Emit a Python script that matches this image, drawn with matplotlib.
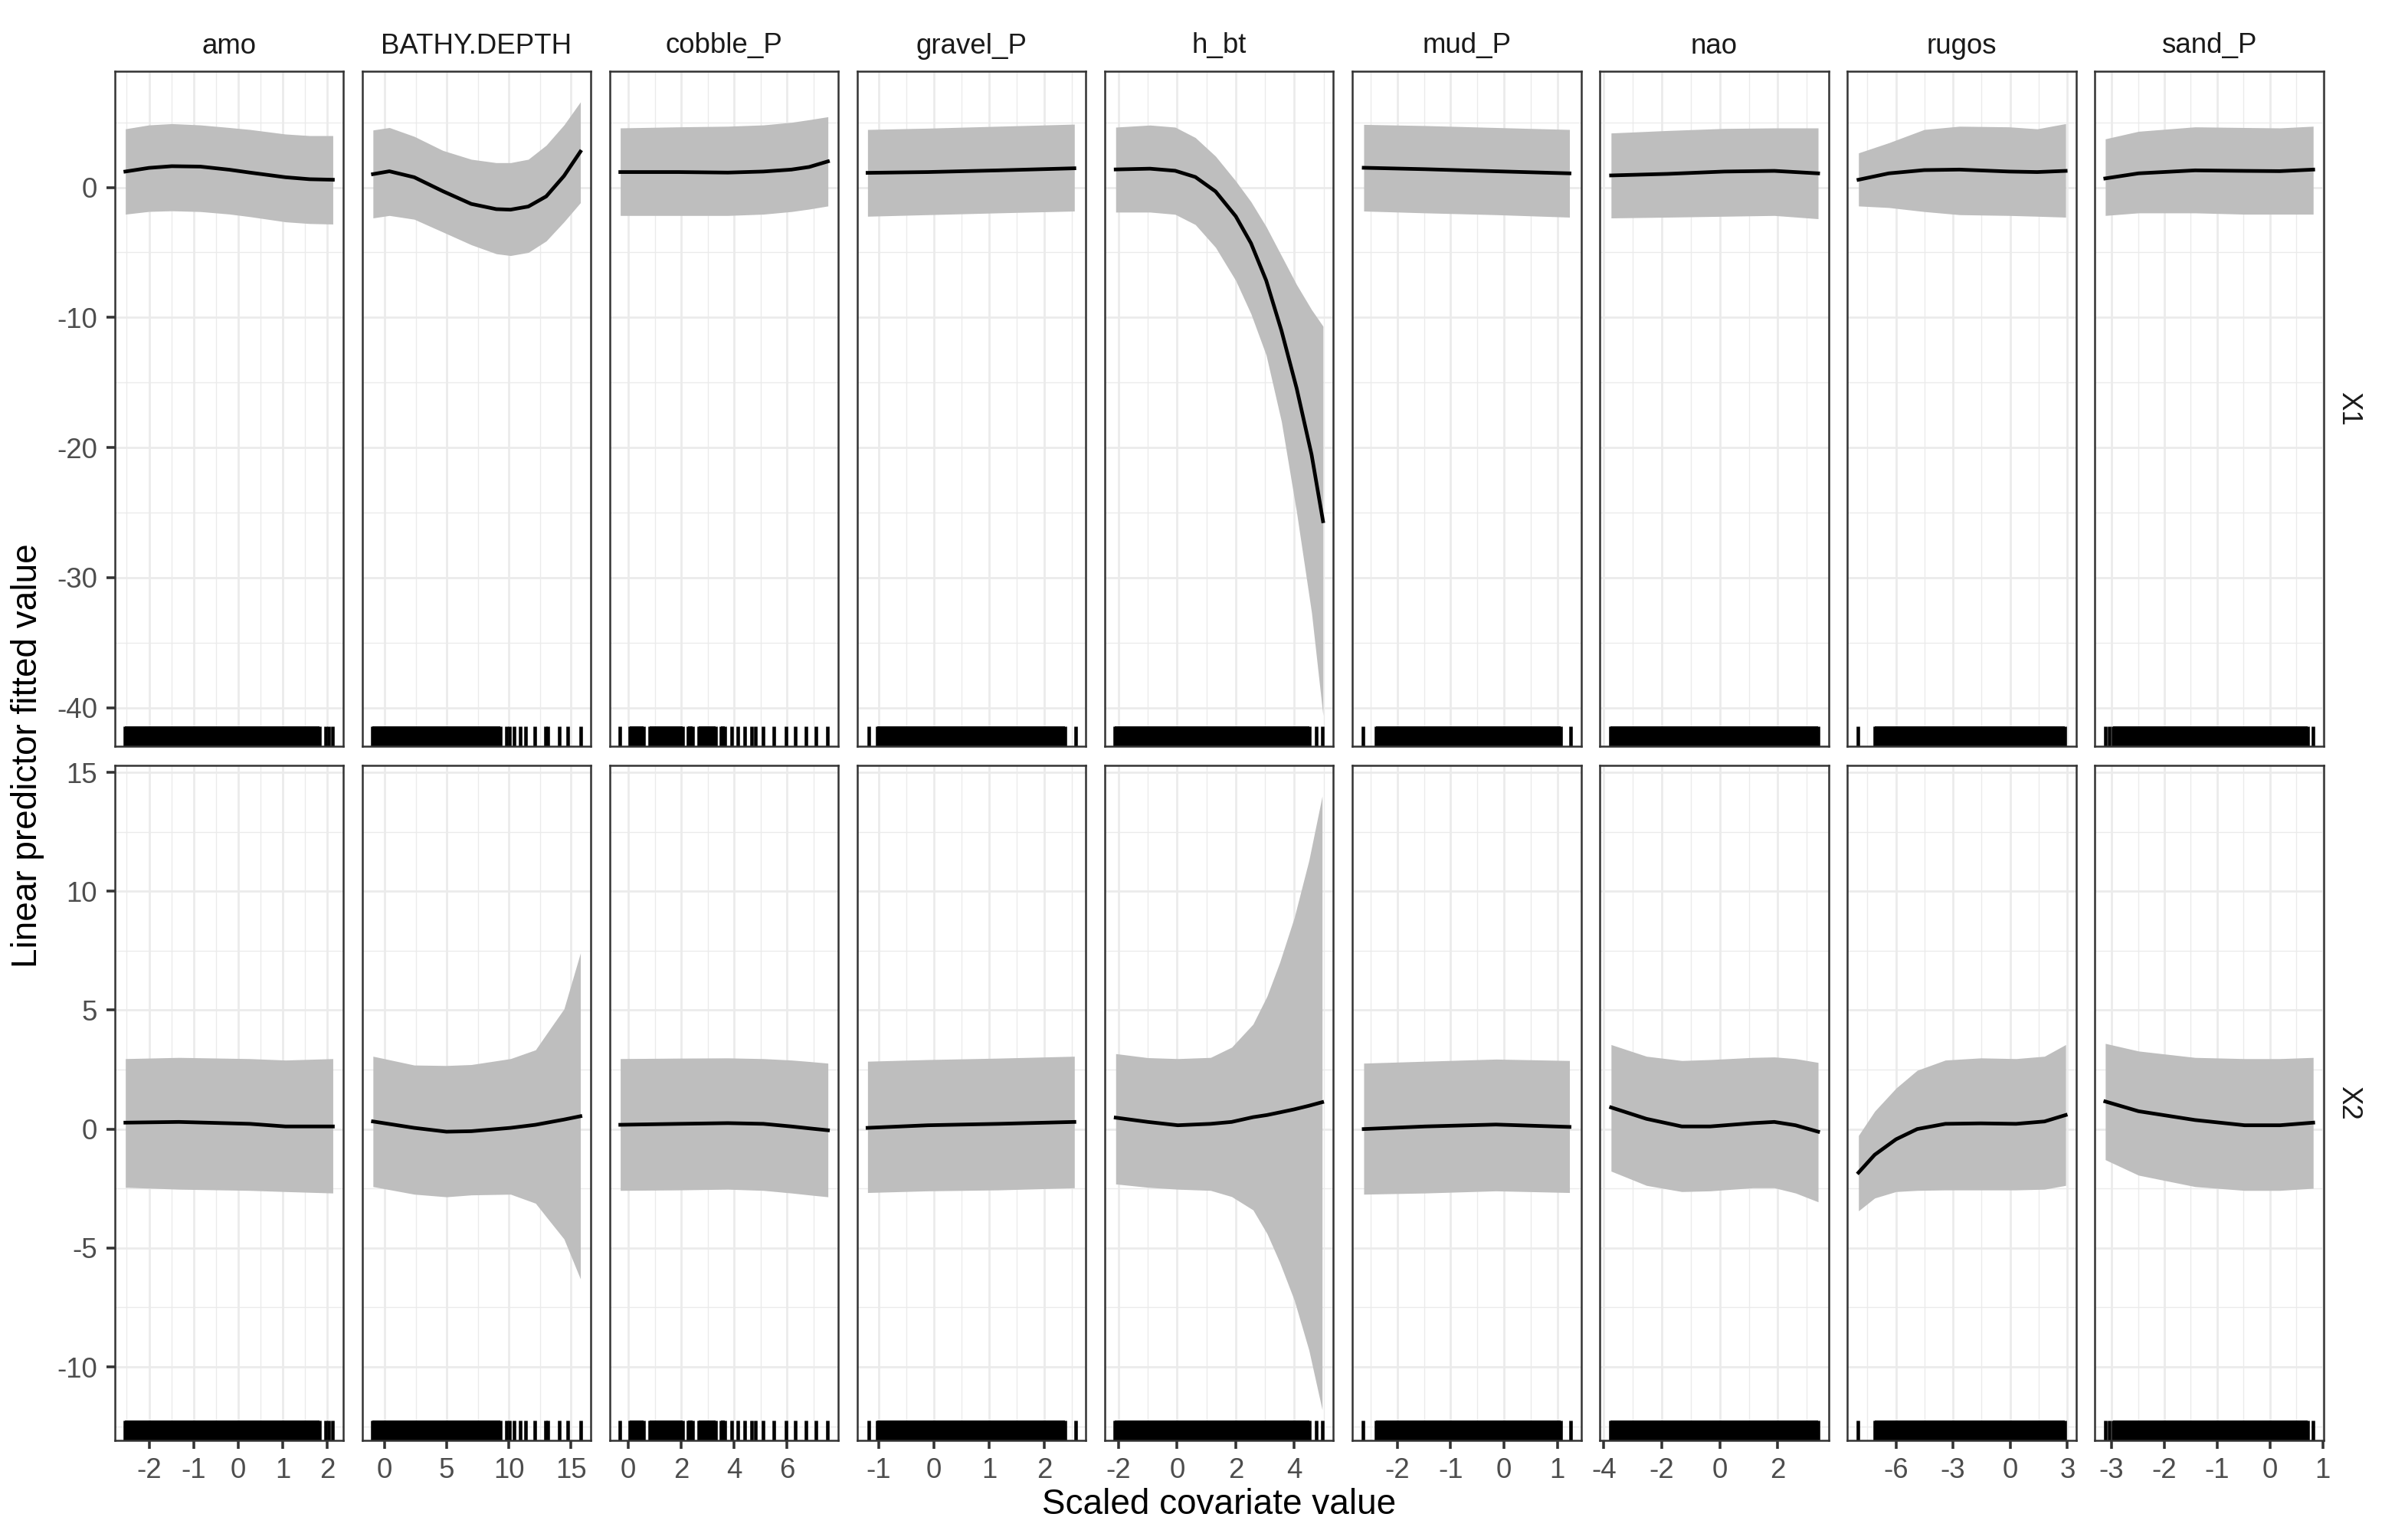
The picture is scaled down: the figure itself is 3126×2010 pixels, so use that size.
import numpy as np
import matplotlib
matplotlib.use("Agg")
import matplotlib.pyplot as plt
from matplotlib import ticker

plt.rcParams['font.family'] = ['Liberation Sans', 'DejaVu Sans']

covariates = ["amo", "BATHY.DEPTH", "cobble_P", "gravel_P", "h_bt",
              "mud_P", "nao", "rugos", "sand_P"]
rows = ["X1", "X2"]

# x tick labels per covariate
x_ticks = {
    "amo": [-2, -1, 0, 1, 2],
    "BATHY.DEPTH": [0, 5, 10, 15],
    "cobble_P": [0, 2, 4, 6],
    "gravel_P": [-1, 0, 1, 2],
    "h_bt": [-2, 0, 2, 4],
    "mud_P": [-2, -1, 0, 1],
    "nao": [-4, -2, 0, 2],
    "rugos": [-6, -3, 0, 3],
    "sand_P": [-3, -2, -1, 0, 1],
}
y_ticks = {"X1": [-40, -30, -20, -10, 0], "X2": [-10, -5, 0, 5, 10, 15]}

# ---- smooth fits (x, fitted, lower, upper) ----
amo_X1_x = [-2.53, -2.0, -1.49, -0.85, -0.2, 0.26, 1.06, 1.6, 2.12]
amo_X1_fit = [1.22, 1.50, 1.63, 1.60, 1.36, 1.14, 0.78, 0.63, 0.59]
amo_X1_lo = [-2.06, -1.85, -1.80, -1.86, -2.05, -2.25, -2.65, -2.78, -2.82]
amo_X1_hi = [4.50, 4.80, 4.90, 4.80, 4.60, 4.45, 4.10, 3.98, 3.98]
amo_X2_x = [-2.53, -1.33, 0.26, 1.06, 2.12]
amo_X2_fit = [0.27, 0.30, 0.22, 0.11, 0.11]
amo_X2_lo = [-2.45, -2.53, -2.58, -2.63, -2.69]
amo_X2_hi = [2.96, 3.01, 2.96, 2.90, 2.96]

bathy_X1_x = [-0.94, 0.38, 2.38, 4.68, 6.97, 8.98, 10.13, 11.56, 13.0, 14.43, 15.75]
bathy_X1_fit = [1.02, 1.24, 0.78, -0.29, -1.27, -1.67, -1.71, -1.47, -0.69, 0.88, 2.75]
bathy_X1_lo = [-2.35, -2.16, -2.45, -3.43, -4.41, -5.10, -5.24, -5.00, -4.12, -2.65, -1.18]
bathy_X1_hi = [4.41, 4.60, 3.92, 2.84, 2.16, 1.90, 1.90, 2.16, 3.24, 4.80, 6.57]
bathy_X2_x = [-0.94, 2.38, 4.97, 6.97, 10.13, 12.14, 13.28, 14.43, 15.75]
bathy_X2_fit = [0.32, 0.05, -0.11, -0.09, 0.05, 0.18, 0.29, 0.40, 0.54]
bathy_X2_lo = [-2.42, -2.74, -2.85, -2.77, -2.74, -3.12, -3.87, -4.62, -6.30]
bathy_X2_hi = [3.06, 2.69, 2.67, 2.71, 2.96, 3.33, 4.19, 5.05, 7.40]

cobble_x = [-0.30, 1.90, 3.76, 5.10, 6.16, 6.83, 7.54]
cobble_X1_fit = [1.18, 1.18, 1.14, 1.22, 1.37, 1.57, 2.00]
cobble_X1_lo = [-2.16, -2.16, -2.16, -2.06, -1.86, -1.67, -1.43]
cobble_X1_hi = [4.57, 4.65, 4.70, 4.80, 5.00, 5.20, 5.43]
cobble_X2_fit = [0.18, 0.22, 0.25, 0.22, 0.11, 0.03, -0.05]
cobble_X2_lo = [-2.58, -2.56, -2.53, -2.58, -2.69, -2.77, -2.85]
cobble_X2_hi = [2.96, 2.98, 2.99, 2.96, 2.90, 2.84, 2.77]

gravel_x = [-1.20, -0.11, 1.17, 2.54]
gravel_X1_fit = [1.12, 1.18, 1.31, 1.47]
gravel_X1_lo = [-2.22, -2.10, -1.96, -1.82]
gravel_X1_hi = [4.45, 4.55, 4.70, 4.86]
gravel_X2_fit = [0.05, 0.16, 0.22, 0.30]
gravel_X2_lo = [-2.67, -2.60, -2.56, -2.47]
gravel_X2_hi = [2.85, 2.92, 2.98, 3.06]

hbt_X1_x = [-2.10, -0.93, -0.07, 0.62, 1.31, 2.00, 2.52, 3.04, 3.56, 4.08, 4.59, 4.98]
hbt_X1_fit = [1.38, 1.44, 1.28, 0.80, -0.31, -2.22, -4.29, -7.16, -11.0, -15.45, -20.55, -25.66]
hbt_X1_lo = [-1.90, -1.90, -2.07, -2.86, -4.61, -7.16, -9.72, -12.9, -18.0, -25.0, -32.7, -40.6]
hbt_X1_hi = [4.63, 4.79, 4.63, 3.83, 2.40, 0.49, -1.10, -3.02, -5.25, -7.48, -9.40, -10.67]
hbt_X2_x = [-2.10, -1.0, 0.02, 1.14, 1.86, 2.59, 3.07, 3.5, 4.0, 4.5, 4.95]
hbt_X2_fit = [0.48, 0.30, 0.16, 0.22, 0.30, 0.50, 0.59, 0.70, 0.83, 0.98, 1.13]
hbt_X2_lo = [-2.31, -2.45, -2.53, -2.58, -2.84, -3.40, -4.40, -5.60, -7.20, -9.30, -11.8]
hbt_X2_hi = [3.17, 3.00, 2.96, 3.01, 3.44, 4.41, 5.59, 7.00, 8.90, 11.3, 14.0]

mud_x = [-2.63, -1.48, -0.15, 1.23]
mud_X1_fit = [1.51, 1.40, 1.24, 1.08]
mud_X1_lo = [-1.82, -1.96, -2.10, -2.29]
mud_X1_hi = [4.84, 4.75, 4.60, 4.45]
mud_X2_fit = [0.00, 0.11, 0.19, 0.09]
mud_X2_lo = [-2.74, -2.69, -2.60, -2.67]
mud_X2_hi = [2.77, 2.85, 2.94, 2.88]

nao_X1_x = [-3.75, -1.80, 0.16, 1.88, 3.39]
nao_X1_fit = [0.92, 1.04, 1.22, 1.27, 1.08]
nao_X1_lo = [-2.35, -2.29, -2.22, -2.16, -2.41]
nao_X1_hi = [4.18, 4.37, 4.53, 4.57, 4.57]
nao_X2_x = [-3.75, -2.53, -1.31, -0.33, 1.14, 1.88, 2.61, 3.39]
nao_X2_fit = [0.91, 0.43, 0.11, 0.11, 0.25, 0.30, 0.16, -0.11]
nao_X2_lo = [-1.77, -2.37, -2.63, -2.60, -2.47, -2.47, -2.69, -3.06]
nao_X2_hi = [3.55, 3.06, 2.88, 2.92, 3.01, 3.03, 2.96, 2.80]

rugos_X1_x = [-7.96, -6.37, -4.51, -2.66, -0.06, 1.42, 2.91]
rugos_X1_fit = [0.59, 1.08, 1.33, 1.37, 1.22, 1.18, 1.27]
rugos_X1_lo = [-1.43, -1.55, -1.86, -2.10, -2.16, -2.22, -2.29]
rugos_X1_hi = [2.65, 3.43, 4.45, 4.70, 4.65, 4.50, 4.90]
rugos_X2_x = [-7.96, -7.11, -5.99, -4.88, -3.40, -1.54, 0.31, 1.80, 2.91]
rugos_X2_fit = [-1.83, -1.08, -0.43, 0.0, 0.22, 0.24, 0.22, 0.32, 0.59]
rugos_X2_lo = [-3.44, -2.90, -2.63, -2.58, -2.56, -2.56, -2.56, -2.53, -2.37]
rugos_X2_hi = [-0.27, 0.75, 1.72, 2.47, 2.90, 2.99, 2.96, 3.06, 3.55]

sand_x = [-3.12, -2.49, -1.42, -0.48, 0.19, 0.82]
sand_X1_fit = [0.69, 1.08, 1.31, 1.27, 1.25, 1.37]
sand_X1_lo = [-2.16, -1.96, -1.96, -2.06, -2.06, -2.06]
sand_X1_hi = [3.73, 4.31, 4.65, 4.60, 4.57, 4.70]
sand_X2_fit = [1.16, 0.75, 0.38, 0.16, 0.16, 0.27]
sand_X2_lo = [-1.29, -1.94, -2.42, -2.58, -2.58, -2.49]
sand_X2_hi = [3.60, 3.28, 3.01, 2.96, 2.96, 3.01]

# ---- rug: dense stretches and single observations ----
rug_spans = {
    "amo": [(-2.54, 1.82)],
    "BATHY.DEPTH": [(-0.98, 9.3)],
    "cobble_P": [(0.07, 0.58), (0.80, 2.04), (2.25, 2.44), (2.66, 3.30),
                 (3.51, 3.64)],
    "gravel_P": [(-1.02, 2.37)],
    "h_bt": [(-2.12, 4.52)],
    "mud_P": [(-2.4, 1.06)],
    "nao": [(-3.78, 3.38)],
    "rugos": [(-7.1, 2.86)],
    "sand_P": [(-2.97, 0.71)],
}
rug_ticks = {
    "amo": [1.95, 2.03, 2.11],
    "BATHY.DEPTH": [9.8, 10.05, 10.4, 10.88, 11.36, 12.1, 12.95, 13.15,
                    14.07, 14.7, 15.75],
    "cobble_P": [-0.31, 3.9, 4.15, 4.4, 4.65, 4.8, 5.1, 5.5, 5.95, 6.32,
                 6.72, 7.1, 7.52],
    "gravel_P": [-1.18, 2.56],
    "h_bt": [4.76, 4.95],
    "mud_P": [-2.65, 1.25],
    "nao": [],
    "rugos": [-8.0],
    "sand_P": [-3.12, -3.05, 0.82],
}

fits = {
    ("amo", "X1"): (amo_X1_x, amo_X1_fit, amo_X1_lo, amo_X1_hi),
    ("amo", "X2"): (amo_X2_x, amo_X2_fit, amo_X2_lo, amo_X2_hi),
    ("BATHY.DEPTH", "X1"): (bathy_X1_x, bathy_X1_fit, bathy_X1_lo, bathy_X1_hi),
    ("BATHY.DEPTH", "X2"): (bathy_X2_x, bathy_X2_fit, bathy_X2_lo, bathy_X2_hi),
    ("cobble_P", "X1"): (cobble_x, cobble_X1_fit, cobble_X1_lo, cobble_X1_hi),
    ("cobble_P", "X2"): (cobble_x, cobble_X2_fit, cobble_X2_lo, cobble_X2_hi),
    ("gravel_P", "X1"): (gravel_x, gravel_X1_fit, gravel_X1_lo, gravel_X1_hi),
    ("gravel_P", "X2"): (gravel_x, gravel_X2_fit, gravel_X2_lo, gravel_X2_hi),
    ("h_bt", "X1"): (hbt_X1_x, hbt_X1_fit, hbt_X1_lo, hbt_X1_hi),
    ("h_bt", "X2"): (hbt_X2_x, hbt_X2_fit, hbt_X2_lo, hbt_X2_hi),
    ("mud_P", "X1"): (mud_x, mud_X1_fit, mud_X1_lo, mud_X1_hi),
    ("mud_P", "X2"): (mud_x, mud_X2_fit, mud_X2_lo, mud_X2_hi),
    ("nao", "X1"): (nao_X1_x, nao_X1_fit, nao_X1_lo, nao_X1_hi),
    ("nao", "X2"): (nao_X2_x, nao_X2_fit, nao_X2_lo, nao_X2_hi),
    ("rugos", "X1"): (rugos_X1_x, rugos_X1_fit, rugos_X1_lo, rugos_X1_hi),
    ("rugos", "X2"): (rugos_X2_x, rugos_X2_fit, rugos_X2_lo, rugos_X2_hi),
    ("sand_P", "X1"): (sand_x, sand_X1_fit, sand_X1_lo, sand_X1_hi),
    ("sand_P", "X2"): (sand_x, sand_X2_fit, sand_X2_lo, sand_X2_hi),
}

W, H = 3126, 2010
fig = plt.figure(figsize=(W / 300, H / 300), dpi=300)

GRID = "#EBEBEB"
BORDER = "#333333"
TXT = "#4D4D4D"
BAND = "#BEBEBE"
RUG_LW = 1.1


def expand(lo, hi, f=0.05):
    d = hi - lo
    return lo - f * d, hi + f * d


# shared y range per row (x is free per column)
ylims = {}
for r in rows:
    vals = []
    for c in covariates:
        x, fit, lo, hi = fits[(c, r)]
        vals += list(lo) + list(hi)
    ylims[r] = expand(min(vals), max(vals))

xlims = {}
for c in covariates:
    xs = list(fits[(c, "X1")][0]) + list(fits[(c, "X2")][0]) + list(rug_ticks[c])
    for a, b in rug_spans[c]:
        xs += [a, b]
    xlims[c] = expand(min(xs), max(xs))

left0, pitch, pw = 149.5, 323.1, 298.5
row_px = {"X1": (93, 974), "X2": (999, 1880)}

for ri, r in enumerate(rows):
    top, bot = row_px[r]
    for ci, c in enumerate(covariates):
        lpx = left0 + ci * pitch
        ax = fig.add_axes([lpx / W, 1 - bot / H, pw / W, (bot - top) / H])
        x, fit, lo, hi = fits[(c, r)]
        ax.fill_between(x, lo, hi, color=BAND, lw=0, zorder=2)
        ax.plot(x, fit, color="black", lw=1.15, zorder=3,
                solid_joinstyle="round")

        tr = ax.get_xaxis_transform()
        for a, b in rug_spans[c]:
            ax.fill_between([a, b], [0, 0], [0.03, 0.03], color="black",
                            lw=0, transform=tr, zorder=4)
            ax.vlines([a, b], 0, 0.03, color="black", lw=RUG_LW,
                      transform=tr, zorder=4)
        if rug_ticks[c]:
            ax.vlines(rug_ticks[c], 0, 0.03, color="black", lw=RUG_LW,
                      transform=tr, zorder=4)

        ax.set_xlim(*xlims[c])
        ax.set_ylim(*ylims[r])
        ax.xaxis.set_major_locator(ticker.FixedLocator(x_ticks[c]))
        ax.xaxis.set_minor_locator(ticker.AutoMinorLocator(2))
        ax.yaxis.set_major_locator(ticker.FixedLocator(y_ticks[r]))
        ax.yaxis.set_minor_locator(ticker.AutoMinorLocator(2))
        ax.xaxis.set_major_formatter(ticker.FuncFormatter(lambda v, p: "%g" % v))
        ax.yaxis.set_major_formatter(ticker.FuncFormatter(lambda v, p: "%g" % v))

        ax.set_axisbelow(True)
        ax.grid(which="major", color=GRID, lw=0.65, zorder=0)
        ax.grid(which="minor", color=GRID, lw=0.33, zorder=0)
        for s in ax.spines.values():
            s.set_color(BORDER)
            s.set_linewidth(0.6)
            s.set_zorder(5)

        ax.tick_params(which="minor", length=0)
        ax.tick_params(which="major", length=2.75, width=0.85, color=BORDER,
                       labelcolor=TXT, labelsize=8.8, pad=2.6)
        ax.tick_params(axis="x", bottom=(r == "X2"), labelbottom=(r == "X2"))
        ax.tick_params(axis="y", left=(ci == 0), labelleft=(ci == 0))

        if ri == 0:
            fig.text((lpx + pw / 2) / W, 1 - 60 / H, c, ha="center",
                     va="center", fontsize=8.8, color="#1A1A1A")
    fig.text(3066 / W, 1 - (top + bot) / 2 / H, r, ha="center", va="center",
             rotation=-90, fontsize=8.8, color="#1A1A1A")

fig.text(1591 / W, 1 - 1964 / H, "Scaled covariate value", ha="center",
         va="center", fontsize=11, color="black")
fig.text(36 / W, 1 - 986 / H, "Linear predictor fitted value", ha="center",
         va="center", rotation=90, fontsize=11, color="black")

fig.savefig("out.png", dpi=300, facecolor="white")
